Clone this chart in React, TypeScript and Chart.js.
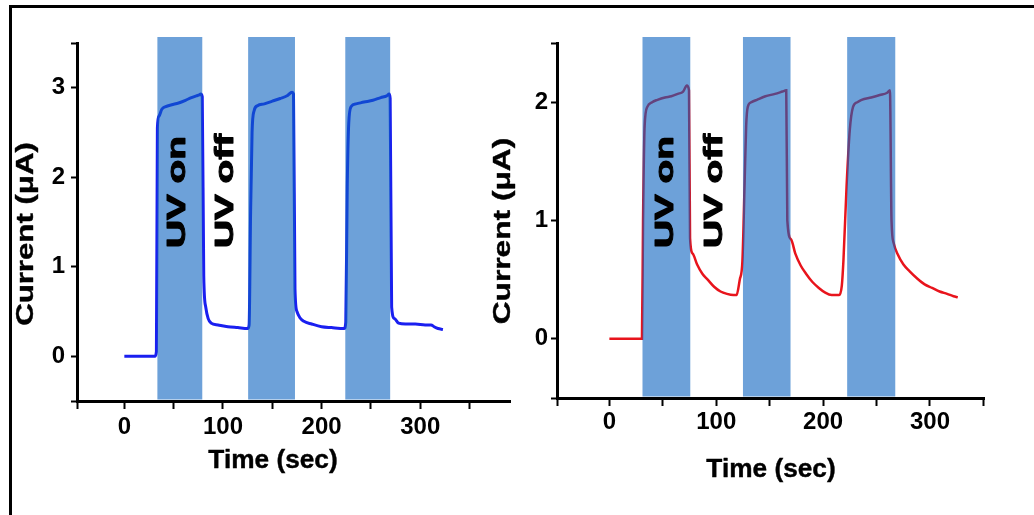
import React, { useEffect, useRef } from "react";
import { Chart, registerables } from "chart.js";

Chart.register(...registerables);

const FONT = "'Liberation Sans', Arial, Helvetica, sans-serif";

// ---------- data ----------
const blueTime = [
  0, 31, 32.5, 33.5, 35, 38, 42, 48, 55, 62, 68, 73, 76, 77.5, 79, 80.5, 82.5, 85, 88, 95,
  105, 115, 125, 126.5, 128, 129.5, 131.5, 135, 142, 150, 158, 165, 170, 171.5, 173, 175, 178, 182, 190, 200,
  210, 223, 224.5, 226, 227.5, 230, 235, 243, 252, 260, 266, 268.5, 269.5, 271, 274, 278, 285, 295, 305, 311,
  314, 318, 323,
];
const blueCurrent = [
  0, 0, 0.05, 2.55, 2.68, 2.76, 2.79, 2.81, 2.83, 2.86, 2.89, 2.91, 2.92, 2.93, 2.9, 0.9, 0.55, 0.42, 0.37, 0.35,
  0.33, 0.32, 0.31, 0.35, 1.6, 2.5, 2.74, 2.8, 2.82, 2.85, 2.88, 2.91, 2.95, 2.93, 0.75, 0.5, 0.43, 0.39, 0.36, 0.33,
  0.32, 0.31, 0.38, 1.9, 2.6, 2.79, 2.82, 2.84, 2.86, 2.89, 2.91, 2.93, 2.88, 0.55, 0.42, 0.37, 0.36, 0.36, 0.35, 0.35,
  0.33, 0.31, 0.3,
];

const redTime = [
  0, 30.5, 31.5, 33, 35.5, 40, 45, 52, 58, 64, 69, 72.5, 74.5, 75.5, 78, 82, 87, 92, 98, 104,
  110, 116, 119, 122, 124.5, 126.5, 128, 129.5, 133, 138, 146, 155, 162, 165.5, 166.5, 170, 174, 179, 184, 190,
  196, 202, 208, 215, 217.5, 219, 222, 225, 228, 232, 236, 245, 253, 260, 262.5, 264, 266, 270, 275, 281,
  288, 295, 302, 309, 316, 322, 326,
];
const redCurrent = [
  0, 0, 1.0, 1.8, 1.96, 2.0, 2.02, 2.04, 2.05, 2.07, 2.09, 2.14, 2.1, 0.85, 0.72, 0.63, 0.55, 0.5, 0.44, 0.4,
  0.38, 0.37, 0.37, 0.5, 0.66, 1.3, 1.8, 1.96, 2.0, 2.02, 2.05, 2.07, 2.09, 2.1, 1.0, 0.84, 0.72, 0.62, 0.55, 0.48,
  0.43, 0.39, 0.37, 0.37, 0.45, 0.66, 1.3, 1.77, 1.96, 2.0, 2.02, 2.04, 2.06, 2.08, 2.1, 1.0, 0.81, 0.71, 0.63, 0.57,
  0.51, 0.46, 0.43, 0.4, 0.38, 0.36, 0.35,
];

// UV-on intervals (sec)
const leftUvStart = [33.5, 125.5, 224];
const leftUvEnd = [79, 173, 269.5];
const rightUvStart = [31, 125, 222.5];
const rightUvEnd = [75.7, 169.5, 267.5];

// tick values / labels
const xTickValues = [0, 50, 100, 150, 200, 250, 300, 350];
const xLabeledTicks = [0, 100, 200, 300];
const leftYTickValues = [0, 1, 2, 3];
const rightYTickValues = [0, 1, 2];

const xTitleText = "Time (sec)";
const yTitleText = "Current (μA)";
const uvOnText = "UV on";
const uvOffText = "UV off";

// ---------- helpers ----------
function drawText(
  ctx: CanvasRenderingContext2D,
  text: string,
  x: number,
  y: number,
  rot: number,
  sx: number,
  sy: number,
  size: number,
  align: CanvasTextAlign,
  baseline: CanvasTextBaseline,
  stroke: number
) {
  ctx.save();
  ctx.translate(x, y);
  ctx.rotate(rot);
  ctx.scale(sx, sy);
  ctx.font = `bold ${size}px ${FONT}`;
  ctx.fillStyle = "#000";
  ctx.strokeStyle = "#000";
  ctx.lineJoin = "round";
  ctx.textAlign = align;
  ctx.textBaseline = baseline;
  ctx.fillText(text, 0, 0);
  if (stroke > 0) {
    ctx.lineWidth = stroke;
    ctx.strokeText(text, 0, 0);
  }
  ctx.restore();
}

type PanelCfg = {
  left: number;
  width: number;
  time: number[];
  current: number[];
  color: string;
  lineWidth: number;
  uvStart: number[];
  uvEnd: number[];
  xMin: number;
  xMax: number;
  yMin: number;
  yMax: number;
  yTicks: number[];
  padTop: number;
  padRight: number;
  yAxisWidth: number;
  xAxisHeight: number;
  yTickPad: number;
  xTickPad: number;
  uvOn: [number, number];
  uvOff: [number, number];
  xTitle: [number, number];
  yTitle: [number, number];
  yTitleSx: number;
};

const leftPanel: PanelCfg = {
  left: 0,
  width: 515,
  time: blueTime,
  current: blueCurrent,
  color: "#1a1ff0",
  lineWidth: 3,
  uvStart: leftUvStart,
  uvEnd: leftUvEnd,
  xMin: -48,
  xMax: 391,
  yMin: -0.5,
  yMax: 3.5,
  yTicks: leftYTickValues,
  padTop: 43,
  padRight: 5,
  yAxisWidth: 77,
  xAxisHeight: 114,
  yTickPad: 6,
  xTickPad: 4,
  uvOn: [185, 248],
  uvOff: [233, 248],
  xTitle: [273, 461],
  yTitle: [26, 234],
  yTitleSx: 1.3,
};

const rightPanel: PanelCfg = {
  left: 480,
  width: 554,
  time: redTime,
  current: redCurrent,
  color: "#e8141c",
  lineWidth: 2.5,
  uvStart: rightUvStart,
  uvEnd: rightUvEnd,
  xMin: -49,
  xMax: 351,
  yMin: -0.5,
  yMax: 2.5,
  yTicks: rightYTickValues,
  padTop: 43,
  padRight: 49.5,
  yAxisWidth: 77,
  xAxisHeight: 117,
  yTickPad: 3,
  xTickPad: 2,
  uvOn: [673 - 480, 248],
  uvOff: [722 - 480, 248],
  xTitle: [771 - 480, 470],
  yTitle: [503 - 480, 231],
  yTitleSx: 1.32,
};

function buildConfig(p: PanelCfg): any {
  const overlay = {
    id: "uvOverlay",
    afterDatasetsDraw(chart: any) {
      const { ctx, chartArea } = chart;
      const xs = chart.scales.x;
      ctx.save();
      ctx.fillStyle = "rgba(12, 98, 192, 0.6)";
      const top = chartArea.top - 6;
      const bottom = chartArea.bottom - 1.5;
      for (let i = 0; i < p.uvStart.length; i++) {
        const a = xs.getPixelForValue(p.uvStart[i]);
        const b = xs.getPixelForValue(p.uvEnd[i]);
        ctx.fillRect(a, top, b - a, bottom - top);
      }
      ctx.restore();
      drawText(ctx, uvOnText, p.uvOn[0], p.uvOn[1], -Math.PI / 2, 1.55, 1, 25, "left", "alphabetic", 1);
      drawText(ctx, uvOffText, p.uvOff[0], p.uvOff[1], -Math.PI / 2, 1.55, 1, 25, "left", "alphabetic", 1);
      drawText(ctx, xTitleText, p.xTitle[0], p.xTitle[1], 0, 1.05, 1, 25, "center", "middle", 0.4);
      drawText(ctx, yTitleText, p.yTitle[0], p.yTitle[1], -Math.PI / 2, p.yTitleSx, 1, 24, "center", "middle", 0.4);
    },
  };

  const tickFont = { family: FONT, size: 24, weight: "bold" as const };

  return {
    type: "line",
    data: {
      datasets: [
        {
          data: p.time.map((t, i) => ({ x: t, y: p.current[i] })),
          borderColor: p.color,
          borderWidth: p.lineWidth,
          pointRadius: 0,
          fill: false,
          cubicInterpolationMode: "monotone",
        },
      ],
    },
    options: {
      responsive: false,
      animation: false,
      devicePixelRatio: 1,
      layout: { padding: { top: p.padTop, right: p.padRight, bottom: 0, left: 0 } },
      plugins: { legend: { display: false }, tooltip: { enabled: false } },
      scales: {
        x: {
          type: "linear",
          min: p.xMin,
          max: p.xMax,
          afterBuildTicks: (scale: any) => {
            scale.ticks = [p.xMin, ...xTickValues].map((v) => ({ value: v }));
          },
          afterFit: (scale: any) => {
            scale.height = p.xAxisHeight;
          },
          ticks: {
            autoSkip: false,
            maxRotation: 0,
            minRotation: 0,
            color: "#000",
            font: tickFont,
            padding: p.xTickPad,
            callback: (v: number) => (xLabeledTicks.includes(v) ? String(v) : ""),
          },
          grid: {
            drawOnChartArea: false,
            drawTicks: true,
            tickLength: 8,
            tickWidth: 2,
            tickColor: "#000",
            color: "#000",
          },
          border: { display: true, color: "#000", width: 3 },
        },
        y: {
          type: "linear",
          min: p.yMin,
          max: p.yMax,
          afterBuildTicks: (scale: any) => {
            scale.ticks = [p.yMin, ...p.yTicks, p.yMax].map((v) => ({ value: v }));
          },
          afterFit: (scale: any) => {
            scale.width = p.yAxisWidth;
          },
          ticks: {
            color: "#000",
            font: tickFont,
            padding: p.yTickPad,
            callback: (v: number) => (p.yTicks.includes(v) ? String(v) : ""),
          },
          grid: {
            drawOnChartArea: false,
            drawTicks: true,
            tickLength: 6,
            tickWidth: 2,
            tickColor: "#000",
            color: "#000",
          },
          border: { display: true, color: "#000", width: 3 },
        },
      },
    },
    plugins: [overlay],
  };
}

function Panel({ cfg }: { cfg: PanelCfg }) {
  const ref = useRef<HTMLCanvasElement | null>(null);
  useEffect(() => {
    if (!ref.current) return;
    const chart = new Chart(ref.current, buildConfig(cfg));
    return () => chart.destroy();
  }, [cfg]);
  return (
    <canvas
      ref={ref}
      width={cfg.width}
      height={515}
      style={{ position: "absolute", left: cfg.left, top: 0, width: cfg.width, height: 515 }}
    />
  );
}

export default function App() {
  return (
    <div
      style={{
        position: "absolute",
        left: 0,
        top: 0,
        width: 1034,
        height: 515,
        background: "#fff",
        overflow: "hidden",
      }}
    >
      <div
        style={{
          position: "absolute",
          left: 9,
          top: 5,
          width: 1034 - 9,
          height: 515 - 5,
          borderTop: "3px solid #000",
          borderLeft: "3px solid #000",
          boxSizing: "border-box",
        }}
      />
      <Panel cfg={leftPanel} />
      <Panel cfg={rightPanel} />
    </div>
  );
}
